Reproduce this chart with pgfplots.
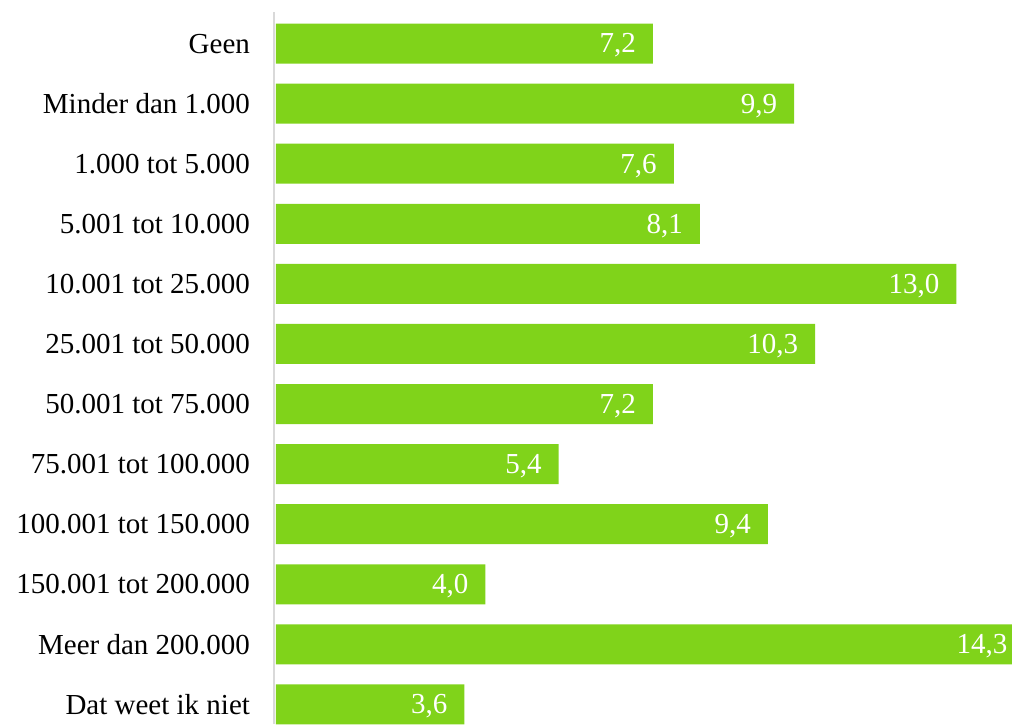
\documentclass[border=0pt]{standalone}
\usepackage{fontspec}
\setmainfont{Liberation Serif}
\usepackage{pgfplots}
\pgfplotsset{compat=1.18}
\definecolor{bargreen}{RGB}{128,211,26}
\definecolor{axisgray}{RGB}{217,217,217}

\begin{document}
\begin{tikzpicture}
  \begin{axis}[
      scale only axis,
      width=369pt, height=356pt,
      xbar, bar width=20pt,
      xmin=0, xmax=14.1,
      ymin=-0.525, ymax=11.325,
      y dir=reverse,
      clip=false,
      axis x line=none,
      axis y line*=left,
      y axis line style={draw=axisgray, line width=1pt},
      ytick={0,...,11},
      yticklabels={Geen, Minder dan 1.000, 1.000 tot 5.000, 5.001 tot 10.000,
        10.001 tot 25.000, 25.001 tot 50.000, 50.001 tot 75.000,
        75.001 tot 100.000, 100.001 tot 150.000, 150.001 tot 200.000,
        Meer dan 200.000, Dat weet ik niet},
      major tick length=0pt,
      yticklabel style={font=\fontsize{14.5}{16}\selectfont, xshift=-8.5pt},
      nodes near coords,
      nodes near coords style={font=\fontsize{14.5}{16}\selectfont, text=white,
        anchor=east, xshift=-5pt, yshift=-1pt,
        /pgf/number format/.cd, fixed, fixed zerofill, precision=1, use comma,
        assume math mode=true},
    ]
    \addplot[fill=bargreen, draw=none, xshift=1pt] coordinates {
      (7.2,0) (9.9,1) (7.6,2) (8.1,3) (13.0,4) (10.3,5)
      (7.2,6) (5.4,7) (9.4,8) (4.0,9) (14.3,10) (3.6,11)
    };
  \end{axis}
  \pgfresetboundingbox
  \path ([xshift=-137pt]current axis.south west) rectangle ([yshift=6pt]current axis.north east);
\end{tikzpicture}
\end{document}
